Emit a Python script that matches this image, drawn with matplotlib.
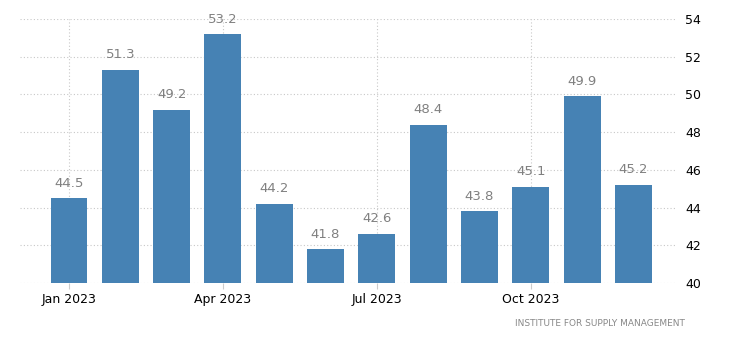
import matplotlib
matplotlib.use("Agg")
import matplotlib.pyplot as plt

months = ["Jan", "Feb", "Mar", "Apr", "May", "Jun", "Jul", "Aug", "Sep", "Oct", "Nov", "Dec"]
values = [44.5, 51.3, 49.2, 53.2, 44.2, 41.8, 42.6, 48.4, 43.8, 45.1, 49.9, 45.2]
tick_idx = [0, 3, 6, 9]
tick_labels = ["Jan 2023", "Apr 2023", "Jul 2023", "Oct 2023"]
yticks = [40, 42, 44, 46, 48, 50, 52, 54]
source = "INSTITUTE FOR SUPPLY MANAGEMENT"

fig = plt.figure(figsize=(7.3, 3.51), dpi=100)
ax = fig.add_axes([20/730, 1-283/351, (677-20)/730, (283-19)/351])
x = list(range(len(values)))
ax.bar(x, [v - 40 for v in values], bottom=40, width=0.72, color="#4682B4", zorder=3)
for xi, v in zip(x, values):
    ax.text(xi, v + 0.45, f"{v:.1f}", ha="center", va="bottom", fontsize=9.5, color="#808080", zorder=4)

ax.set_xlim(-0.955, 11.85)
ax.set_ylim(40, 54)
ax.set_yticks(yticks)
ax.yaxis.tick_right()
ax.set_xticks(tick_idx)
ax.set_xticklabels(tick_labels)
ax.tick_params(axis="y", length=0, pad=6, labelsize=9, colors="black")
ax.tick_params(axis="x", length=4, color="#cccccc", pad=3, labelsize=9, colors="black")
for s in ax.spines.values():
    s.set_visible(False)
ax.grid(True, which="major", linestyle=(0, (1, 2)), color="#c8c8c8", linewidth=0.8, zorder=0)
fig.text(685/730, 1-324/351, source, ha="right", va="center", fontsize=6.5, color="#888888")
fig.savefig("out.png", dpi=100)
